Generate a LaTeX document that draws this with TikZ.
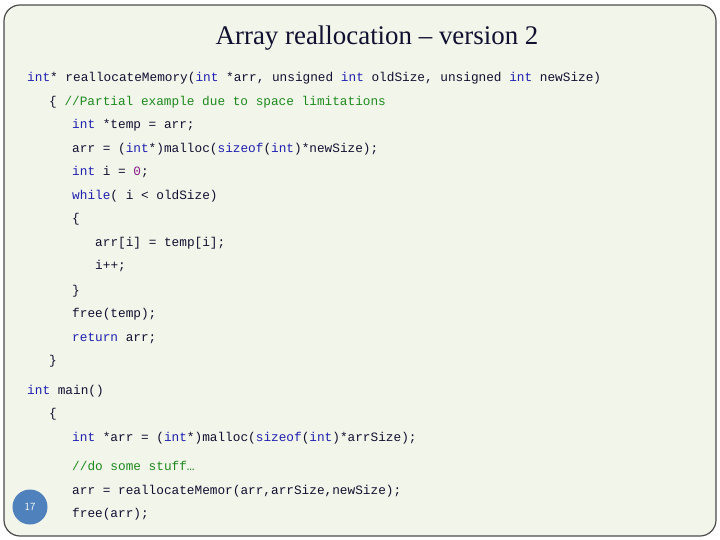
\documentclass[tikz,border=0pt]{standalone}
\usepackage{fontspec}
\setmainfont{Liberation Serif}
\newfontfamily\codefont{Liberation Mono}
\definecolor{bgc}{HTML}{F2F5EA}
\definecolor{kw}{HTML}{1F1FB0}
\definecolor{cm}{HTML}{1E8A1E}
\definecolor{nm}{HTML}{8A1E8A}
\definecolor{tx}{HTML}{101030}
\definecolor{circ}{HTML}{4F81BD}
\newcommand{\K}[1]{\textcolor{kw}{#1}}
\newcommand{\Cm}[1]{\textcolor{cm}{#1}}
\newcommand{\Nm}[1]{\textcolor{nm}{#1}}
\begin{document}
\begin{tikzpicture}[x=1bp,y=-1bp,
  code/.style={anchor=base west,inner sep=0pt,font=\codefont\fontsize{12.8}{14}\selectfont,text=tx}]
\useasboundingbox (0,0) rectangle (720,540);
\draw[fill=bgc,draw=black!70,line width=1.2bp,rounded corners=16bp] (4,5) rectangle (716,536);
\node[anchor=center,font=\fontsize{27}{30}\selectfont,text=tx] (title) at (377,38) {Array reallocation -- version 2};
\node[code] (l1) at (27,82) {\K{int}* reallocateMemory(\K{int} *arr, unsigned \K{int} oldSize, unsigned \K{int} newSize)};
\node[code] (l2) at (49,106) {\{ \Cm{//Partial example due to space limitations}};
\node[code] (l3) at (72,129) {\K{int} *temp = arr;};
\node[code] (l4) at (72,153) {arr = (\K{int}*)malloc(\K{sizeof}(\K{int})*newSize);};
\node[code] (l5) at (72,176) {\K{int} i = \Nm{0};};
\node[code] (l6) at (72,200) {\K{while}( i < oldSize)};
\node[code] (l7) at (72,223) {\{};
\node[code] (l8) at (95,247) {arr[i] = temp[i];};
\node[code] (l9) at (95,270) {i++;};
\node[code] (l10) at (72,294) {\}};
\node[code] (l11) at (72,317) {free(temp);};
\node[code] (l12) at (72,341) {\K{return} arr;};
\node[code] (l13) at (49,364) {\}};
\node[code] (l14) at (27,394) {\K{int} main()};
\node[code] (l15) at (49,417) {\{};
\node[code] (l16) at (72,441) {\K{int} *arr = (\K{int}*)malloc(\K{sizeof}(\K{int})*arrSize);};
\node[code] (l17) at (72,470) {\Cm{//do some stuff\ldots}};
\node[code] (l18) at (72,494) {arr = reallocateMemor(arr,arrSize,newSize);};
\node[code] (l19) at (72,517) {free(arr);};
\node[circle,fill=circ,minimum size=35bp,inner sep=0pt,text=white,font=\fontsize{11}{12}\selectfont\sffamily] (pg) at (30,507) {17};
\end{tikzpicture}
\end{document}
